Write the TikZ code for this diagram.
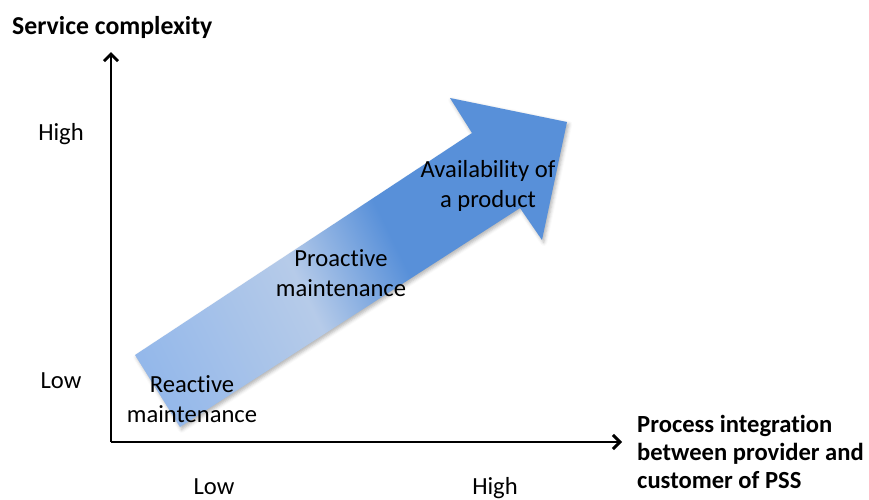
\documentclass[tikz,border=0pt]{standalone}
\usepackage{fontspec}
\setmainfont{Carlito}[RawFeature={-liga}]
\usepackage{tikz}
\usetikzlibrary{arrows.meta}
\usetikzlibrary{shadows.blur}
\definecolor{arrow-light}{RGB}{148,184,234}
\definecolor{arrow-pale}{RGB}{182,203,233}
\definecolor{arrow-dark}{RGB}{88,144,217}
\pgfdeclarehorizontalshading{arrow-shade}{100bp}{color(0bp)=(arrow-light); color(21bp)=(arrow-light); color(43bp)=(arrow-pale); color(56bp)=(arrow-dark); color(100bp)=(arrow-dark)}

\begin{document}
\begin{tikzpicture}[x=0.03cm, y=-0.03cm,
  axis/.style={line width=2.5pt, -{Straight Barb[length=6pt,width=12pt,line width=2.5pt]}},
  lbl/.style={inner sep=0pt, font=\fontsize{21}{25}\selectfont, align=center},
  axis title/.style={lbl, font=\fontsize{21}{24}\selectfont\bfseries, align=left}]

\useasboundingbox (0,0) rectangle (869,499);

% the two axes
\coordinate (o) at (111,442);
\coordinate (ytop) at (111,52);
\coordinate (xend) at (622,442);
\draw [axis] (o) -- (ytop);
\draw [axis] (o) -- (xend);

% the big arrow
\shade [blur shadow={shadow xshift=1.5pt, shadow yshift=-2pt, shadow opacity=30, shadow blur radius=3pt},
  shading=arrow-shade, shading angle=26]
  (180,427) -- (135,355) -- (472,133) -- (450,98) -- (567,122) -- (542,240) -- (520,208) -- cycle;

\node [axis title, font=\fontsize{22}{24}\selectfont\bfseries, anchor=base west] (ytitle) at (12,34) {Service complexity};
\node [lbl, anchor=base] (yhigh) at (61,140) {High};
\node [lbl, anchor=base] (ylow) at (61,388) {Low};

\node [lbl, anchor=base] (xlow) at (214,494) {Low};
\node [lbl, anchor=base] (xhigh) at (495,494) {High};
\node [axis title, anchor=north west] (xtitle) at (637,415) {Process integration\\between provider and\\customer of PSS};

% stages along the arrow
\node [lbl] (reactive) at (192,399) {Reactive\\maintenance};
\node [lbl] (proactive) at (341,273) {Proactive\\maintenance};
\node [lbl] (availability) at (488,186) {Availability of\\a product};

\end{tikzpicture}
\end{document}
